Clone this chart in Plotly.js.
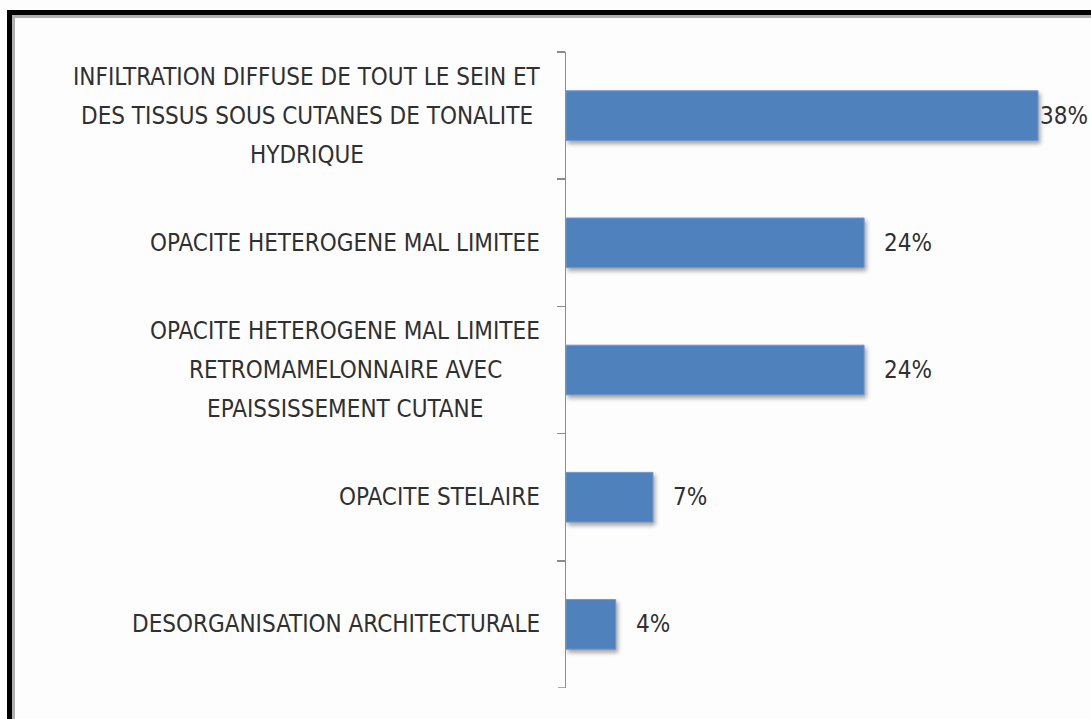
<!DOCTYPE html>
<html>
<head>
<meta charset="utf-8">
<script src="https://cdn.plot.ly/plotly-3.0.1.min.js"></script>
<style>
  html, body { margin:0; padding:0; background:#fdfdfd; width:1091px; height:719px; overflow:hidden; }
  #wrap { position:relative; width:1091px; height:719px; }
  #chart { position:absolute; left:0; top:0; width:1091px; height:719px; }
  #frame { position:absolute; left:7px; top:10px; width:1100px; height:720px;
           border-left:5px solid #000; border-top:5px solid #000;
           box-shadow: inset 3px 3px 0 #b0b0b0; pointer-events:none; }
  .trace.bars .point path { filter: drop-shadow(2px 3px 2px rgba(0,0,0,0.35)); }
</style>
</head>
<body>
<div id="wrap">
  <div id="chart"></div>
  <div id="frame"></div>
</div>
<script>
// ---- data ----
const categories = [
  "INFILTRATION DIFFUSE DE TOUT LE SEIN ET\nDES TISSUS SOUS CUTANES DE TONALITE\nHYDRIQUE",
  "OPACITE HETEROGENE MAL LIMITEE",
  "OPACITE HETEROGENE MAL LIMITEE\nRETROMAMELONNAIRE AVEC\nEPAISSISSEMENT CUTANE",
  "OPACITE STELAIRE",
  "DESORGANISATION ARCHITECTURALE"
];
const values = [38, 24, 24, 7, 4];
const valueLabels = ["38%", "24%", "24%", "7%", "4%"];

// ---- style / layout ----
const W = 1091, H = 719;
const ML = 566, MR = 0, MT = 52, MB = 31;
const plotW = W - ML - MR;
const FONT_FAMILY = "'Liberation Sans Narrow', 'DejaVu Sans Condensed', 'Arial Narrow', sans-serif";
const FONT_SIZE = 24;
const TEXT_COLOR = "#303030";
const LINE_H = 39;
const LABEL_GAP = 26;      // px between label block and axis
const VALUE_GAP = 18;      // px between bar end and value label
const XMAX = 42.27;
const AXIS_COLOR = "#8c8c8c";
const TICK_LEN = 8;

const cv = document.createElement("canvas").getContext("2d");
cv.font = FONT_SIZE + "px " + FONT_FAMILY;
const tw = s => cv.measureText(s).width;

const annotations = [];
categories.forEach((cat, ci) => {
  const lines = cat.split("\n");
  const maxW = Math.max(...lines.map(tw));
  const centrePx = -LABEL_GAP - maxW / 2;  // relative to plot left edge
  lines.forEach((ln, i) => {
    annotations.push({
      xref: "paper", yref: "y",
      x: centrePx / plotW, y: cat,
      xanchor: "center", yanchor: "middle",
      yshift: -(i - (lines.length - 1) / 2) * LINE_H,
      text: ln, showarrow: false,
      font: { family: FONT_FAMILY, size: FONT_SIZE, color: TEXT_COLOR }
    });
  });
});

values.forEach((v, i) => {
  const endPx = v / XMAX * plotW;
  const w = tw(valueLabels[i]);
  let shift = VALUE_GAP;
  const limit = plotW - 5;
  if (endPx + shift + w > limit) shift = Math.max(0, limit - endPx - w);
  annotations.push({
    xref: "x", yref: "y", x: v, y: categories[i],
    xanchor: "left", yanchor: "middle", xshift: shift,
    text: valueLabels[i], showarrow: false,
    font: { family: FONT_FAMILY, size: FONT_SIZE, color: TEXT_COLOR }
  });
});

// end-boundary ticks (top and bottom of the category axis)
const shapes = [-0.5, categories.length - 0.5].map(b => ({
  type: "line", xref: "paper", yref: "y",
  x0: -TICK_LEN / plotW, x1: 0, y0: b, y1: b,
  line: { color: AXIS_COLOR, width: 1.5 }, layer: "above"
}));

const trace = {
  type: "bar", orientation: "h",
  x: values, y: categories,
  marker: { color: "#4F81BD", line: { color: "#6E97CB", width: 1 } },
  hoverinfo: "skip"
};

const layout = {
  width: W, height: H,
  margin: { l: ML, r: MR, t: MT, b: MB, pad: 0 },
  paper_bgcolor: "#fdfdfd", plot_bgcolor: "rgba(0,0,0,0)",
  showlegend: false,
  bargap: 0.61,
  xaxis: { range: [0, XMAX], visible: false, fixedrange: true },
  yaxis: {
    type: "category", autorange: false, range: [categories.length - 0.5, -0.5],
    showticklabels: false, showgrid: false, zeroline: false,
    showline: true, linecolor: AXIS_COLOR, linewidth: 1.5,
    ticks: "outside", tickson: "boundaries", ticklen: TICK_LEN, tickcolor: AXIS_COLOR, tickwidth: 1.5,
    fixedrange: true
  },
  shapes: shapes,
  annotations: annotations
};

Plotly.newPlot("chart", [trace], layout, { displayModeBar: false, staticPlot: true });
</script>
</body>
</html>
